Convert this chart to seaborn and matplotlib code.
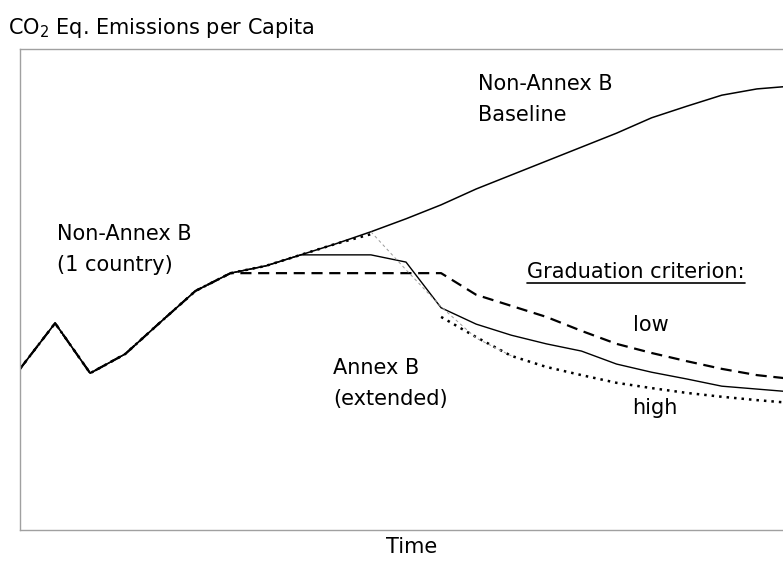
import matplotlib
matplotlib.use("Agg")
import matplotlib.pyplot as plt
import seaborn as sns
import numpy as np
import pandas as pd
from matplotlib.lines import Line2D

# time steps (arbitrary units) and emission levels (arbitrary units, 0-100)
steps = list(range(23))
baseline = [33.5, 43.0, 32.6, 36.6, 43.2, 49.7, 53.4, 54.9, 57.2, 59.5, 62.0, 64.7,
            67.6, 70.9, 73.8, 76.7, 79.6, 82.5, 85.7, 88.1, 90.4, 91.7, 92.3]
grad_low = baseline[:7] + [53.4, 53.4, 53.4, 53.4, 53.4, 53.4,
                           48.9, 46.6, 44.3, 41.4, 38.7, 36.8, 35.1, 33.5, 32.2, 31.4]
grad_mid = baseline[:9] + [57.2, 57.2, 55.7, 46.2, 42.8, 40.5, 38.7, 37.2, 34.5,
                           32.8, 31.4, 29.9, 29.3, 28.7]
grad_high_pre = baseline[:10] + [61.5]
grad_high_post = [44.3, 40.1, 36.2, 33.9, 32.2, 30.6, 29.5, 28.5, 27.7, 27.0, 26.4]
transition_steps = [10, 11, 12, 13, 14]
transition = [62.0, 54.1, 46.4, 39.9, 36.2]

sns.set_theme(style="white")
plt.rcParams['font.family'] = ['DejaVu Sans']
plt.rcParams['text.color'] = 'black'
plt.rcParams['axes.labelcolor'] = 'black'

fig = plt.figure(figsize=(7.83, 5.62), dpi=100)
W, H = 783, 562
ax = fig.add_axes([20 / W, (H - 530) / H, 772 / W, 481 / H])

sns.lineplot(x=steps, y=baseline, ax=ax, color="black", lw=1.1)
sns.lineplot(x=steps, y=grad_mid, ax=ax, color="black", lw=1.0)
sns.lineplot(x=steps, y=grad_low, ax=ax, color="black", lw=1.6, linestyle=(0, (5, 3)))
sns.lineplot(x=steps[:11], y=grad_high_pre, ax=ax, color="black", lw=1.8, linestyle=(0, (1, 2)))
sns.lineplot(x=steps[12:], y=grad_high_post, ax=ax, color="black", lw=1.8, linestyle=(0, (1, 2)))
sns.lineplot(x=transition_steps, y=transition, ax=ax, color="#9a9a9a", lw=0.7, linestyle=(0, (3, 3)))

ax.set_xlim(0, 22)
ax.set_ylim(0, 100)
ax.set_xticks([])
ax.set_yticks([])
for s in ["left", "top", "bottom"]:
    ax.spines[s].set_color("#a0a0a0")
    ax.spines[s].set_linewidth(1.0)
ax.spines["right"].set_visible(False)

fs = 15
ax.set_ylabel("")
ax.set_xlabel("Time", fontsize=fs)
ax.xaxis.set_label_coords((412 - 20) / 772, -0.015)

labels = [
    (13.05, 91.5, "Non-Annex B"), (13.05, 85.0, "Baseline"),
    (1.05, 60.3, "Non-Annex B"), (1.05, 53.8, "(1 country)"),
    (8.92, 32.4, "Annex B"), (8.92, 26.0, "(extended)"),
    (17.47, 41.4, "low"), (17.44, 24.2, "high"),
]
for x, y, t in labels:
    ax.text(x, y, t, fontsize=fs, va="baseline", ha="left", color="black")

grad = ax.text(14.45, 52.4, "Graduation criterion:", fontsize=fs, va="baseline",
               ha="left", color="black")

fig.text(8 / W, (H - 34) / H, "CO$_2$ Eq. Emissions per Capita", fontsize=fs,
         va="baseline", ha="left", color="black")

# underline the graduation heading
fig.canvas.draw()
bb = grad.get_window_extent(fig.canvas.get_renderer())
uy = bb.y0 - 1
fig.add_artist(Line2D([bb.x0 / W, bb.x1 / W], [uy / H, uy / H], color="black", lw=1.2,
                      transform=fig.transFigure))

fig.savefig("out.png", dpi=100)
